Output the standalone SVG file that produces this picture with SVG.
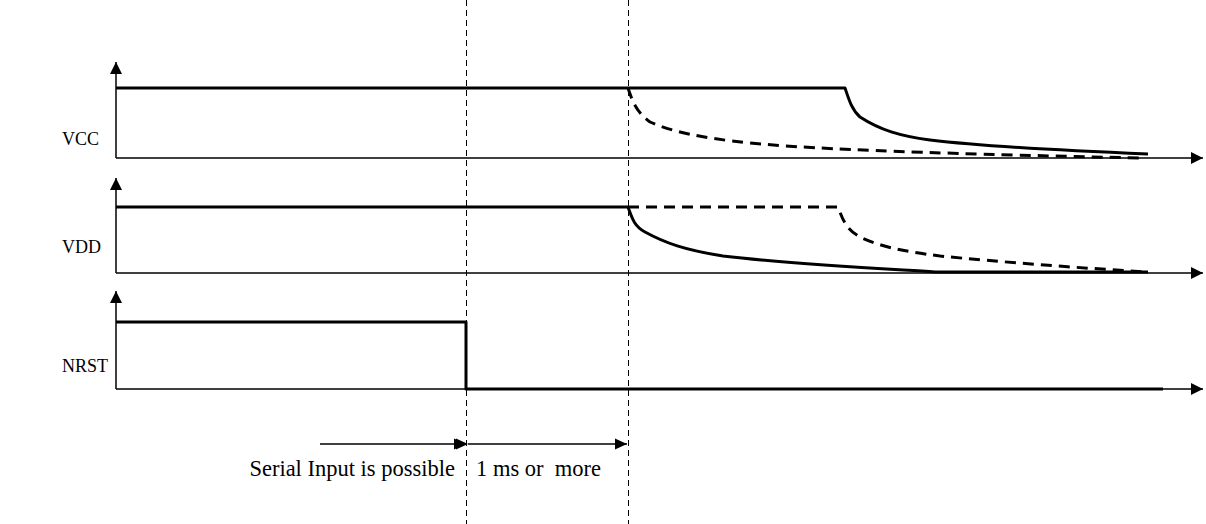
<svg xmlns="http://www.w3.org/2000/svg" width="1206" height="524" viewBox="0 0 1206 524">
<style>
.axis{stroke:#000;stroke-width:1.5;fill:none}
.sig{stroke:#000;stroke-width:3;fill:none;stroke-linejoin:round}
.dsig{stroke:#000;stroke-width:3;fill:none;stroke-dasharray:11 7}
.guide{stroke:#000;stroke-width:1;fill:none;stroke-dasharray:6 4}
.dim{stroke:#000;stroke-width:1.5;fill:none}
text{font-family:"Liberation Serif","Times New Roman",serif;fill:#000}
.lbl{font-size:18px}
.note{font-size:22.5px}
</style>
<defs>
<marker id="ah" viewBox="0 0 12 12" refX="12" refY="6" markerWidth="12" markerHeight="12" markerUnits="userSpaceOnUse" orient="auto">
<path d="M0,0.5 L12,6 L0,11.5 Z" fill="#000"/>
</marker>
<marker id="ax" viewBox="0 0 12 12" refX="12" refY="6" markerWidth="12" markerHeight="12" markerUnits="userSpaceOnUse" orient="auto">
<path d="M0,0 L12,6 L0,12 Z" fill="#000"/>
</marker>
</defs>
<rect width="1206" height="524" fill="#fff"/>
<g id="guides">
<line class="guide" x1="466.5" y1="0" x2="466.5" y2="524"/>
<line class="guide" x1="628.5" y1="0" x2="628.5" y2="524"/>
</g>
<g id="vcc">
<text class="lbl" x="62" y="145">VCC</text>
<path class="axis" d="M116,158 V62" marker-end="url(#ax)"/>
<path class="axis" d="M116,158 H1203" marker-end="url(#ax)"/>
<path class="sig" d="M116,88 H845 C849,100 852,110 860,117 C880,130 900,136 930,140 C980,146 1050,150 1148,154"/>
<path class="dsig" d="M628,88 C632,100 636,112 650,122 C670,131 700,138 750,143 C800,148 900,153 1143,158"/>
</g>
<g id="vdd">
<text class="lbl" x="62" y="253">VDD</text>
<path class="axis" d="M116,273 V178" marker-end="url(#ax)"/>
<path class="axis" d="M116,273 H1203" marker-end="url(#ax)"/>
<path class="sig" d="M116,207 H628 C632,218 634,226 645,232 C665,243 685,250 723,256 C790,264 870,268 935,272 L1148,272"/>
<path class="dsig" d="M628,207 H838 C843,220 846,230 862,238 C880,246 900,251 940,256 C1000,262 1080,268 1148,272"/>
</g>
<g id="nrst">
<text class="lbl" x="62" y="372">NRST</text>
<path class="axis" d="M116,389 V291" marker-end="url(#ax)"/>
<path class="axis" d="M116,389 H1203" marker-end="url(#ax)"/>
<path class="sig" d="M116,322 H466 V389 H1163"/>
</g>
<g id="connectors">
<line class="dim" x1="320" y1="444" x2="466" y2="444" marker-end="url(#ah)"/>
<line class="dim" x1="468" y1="444" x2="627" y2="444" marker-start="url(#ah)" marker-end="url(#ah)"/>
</g>
<g id="annotations">
<text class="note" x="455" y="476" text-anchor="end">Serial Input is possible</text>
<text class="note" x="476" y="476" xml:space="preserve">1 ms or  more</text>
</g>
</svg>
